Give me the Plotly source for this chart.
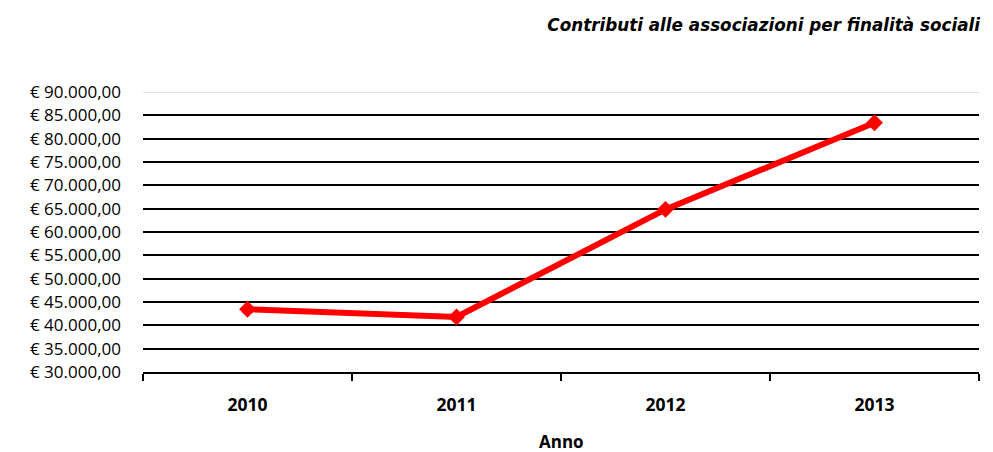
import plotly.graph_objects as go

anni = ["2010", "2011", "2012", "2013"]
contributi = [43450, 41800, 64850, 83400]
tick_vals = list(range(30000, 90001, 5000))
tick_text = ["€ " + f"{v:,.2f}".replace(",", "X").replace(".", ",").replace("X", ".") for v in tick_vals]

fig = go.Figure()
fig.add_trace(go.Scatter(
    x=anni, y=contributi, mode="lines+markers",
    line=dict(color="#FF0000", width=6),
    marker=dict(symbol="diamond", size=13, color="#FF0000"),
    showlegend=False,
))

fig.update_layout(
    width=985, height=444,
    margin=dict(l=135, r=14, t=84, b=80, autoexpand=False),
    paper_bgcolor="white", plot_bgcolor="white",
    font=dict(family="Open Sans, Liberation Sans, sans-serif", color="black"),
    title=dict(
        text="<b><i>Contributi alle associazioni per finalità sociali</i></b>",
        x=972 / 985, xanchor="right", xref="container",
        y=1 - 17 / 444, yanchor="middle", yref="container",
        font=dict(size=16.8, family="DejaVu Sans, Liberation Sans, sans-serif", color="black"),
    ),
    xaxis=dict(
        type="category", showgrid=False, showline=True, linecolor="black", linewidth=1.5,
        ticks="outside", tickson="boundaries", ticklen=7, tickcolor="black", tickwidth=1.5,
        tickfont=dict(size=17.5, family="Open Sans, Liberation Sans, sans-serif", weight="bold"),
        ticklabelstandoff=16,
        range=[-0.5, 3.5], zeroline=False,
    ),
    yaxis=dict(
        range=[30000, 90000], tickvals=tick_vals, ticktext=tick_text,
        showgrid=True, gridcolor="black", gridwidth=1.5, zeroline=False,
        showline=False, ticks="", ticklabelstandoff=21,
        tickfont=dict(size=17, family="Open Sans, Liberation Sans, sans-serif"),
    ),
    annotations=[dict(
        text="<b>Anno</b>", xref="paper", yref="paper", x=0.5, y=0,
        xanchor="center", yanchor="middle", yshift=-69, showarrow=False,
        font=dict(size=17, family="Open Sans, Liberation Sans, sans-serif", color="black"),
    )],
)
fig.add_shape(type="line", xref="paper", yref="y", x0=0, x1=1, y0=90000, y1=90000,
              line=dict(color="#D9D9D9", width=1.5), layer="below")

fig.write_html("out.html")
